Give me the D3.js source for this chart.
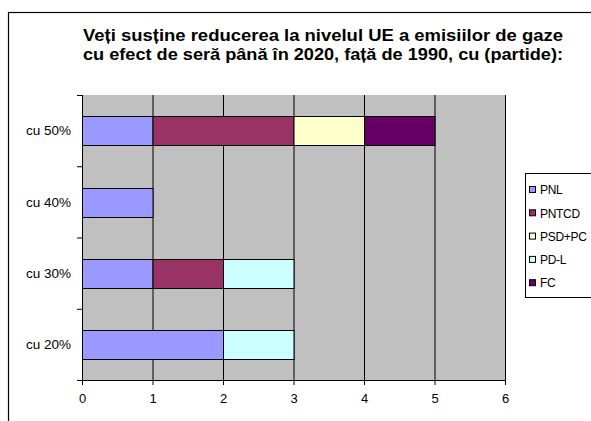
<!DOCTYPE html>
<html>
<head>
<meta charset="utf-8">
<script src="https://cdn.jsdelivr.net/npm/d3@7"></script>
<style>
  body { margin: 0; background: #fff; }
  svg { display: block; font-family: "Liberation Sans", Arial, sans-serif; }
</style>
</head>
<body>
<svg id="chart" width="591" height="421"></svg>
<script>
// data
var categories = ["cu 50%", "cu 40%", "cu 30%", "cu 20%"];
var parties = ["PNL", "PNTCD", "PSD+PC", "PD-L", "FC"];
var colors = ["#9999ff", "#993366", "#ffffcc", "#ccffff", "#660066"];
// one array per party, in category order
var pnl = [1, 1, 1, 2];
var pntcd = [2, 0, 1, 0];
var psdpc = [1, 0, 0, 0];
var pdl = [0, 0, 1, 1];
var fc = [1, 0, 0, 0];
var xTicks = [0, 1, 2, 3, 4, 5, 6];
var titleLines = [
  "Veți susține reducerea la nivelul UE a emisiilor de gaze",
  "cu efect de seră până în 2020, față de 1990, cu (partide):"
];

var svg = d3.select("#chart");

// outer chart border (runs off the right and bottom edge)
svg.append("rect")
  .attr("x", 8.5).attr("y", 12.5)
  .attr("width", 700).attr("height", 500)
  .attr("fill", "none").attr("stroke", "#000").attr("stroke-width", 1.2);

// careful: "top" is window.top, so use other names
var pLeft = 82, pRight = 505, pTop = 95, pBottom = 380;

var x = d3.scaleLinear().domain([0, 6]).range([pLeft, pRight]);
var y = d3.scaleBand().domain(categories).range([pTop, pBottom]).paddingInner(0.6).paddingOuter(0.3);

// build rows for the stack
var rows = categories.map(function(c, i) {
  return { cat: c, "PNL": pnl[i], "PNTCD": pntcd[i], "PSD+PC": psdpc[i], "PD-L": pdl[i], "FC": fc[i] };
});
var stacked = d3.stack().keys(parties)(rows);

// plot background
svg.append("rect")
  .attr("x", pLeft).attr("y", pTop)
  .attr("width", pRight - pLeft).attr("height", pBottom - pTop)
  .attr("fill", "#c0c0c0");

// vertical grid lines
svg.append("g").selectAll("line")
  .data(xTicks.slice(1))
  .join("line")
  .attr("x1", d => x(d) + 0.5).attr("x2", d => x(d) + 0.5)
  .attr("y1", pTop).attr("y2", pBottom)
  .attr("stroke", "#000").attr("stroke-width", 1);

// bars
svg.append("g").selectAll("g")
  .data(stacked)
  .join("g")
  .attr("fill", (d, i) => colors[i])
  .selectAll("rect")
  .data(d => d.filter(s => s[1] > s[0]))
  .join("rect")
  .attr("x", d => x(d[0]) + 0.5)
  .attr("y", d => Math.round(y(d.data.cat)) + 0.5)
  .attr("width", d => x(d[1]) - x(d[0]))
  .attr("height", Math.round(y.bandwidth()))
  .attr("stroke", "#000").attr("stroke-width", 1);

// x axis
var xAxis = svg.append("g")
  .attr("transform", "translate(0," + pBottom + ")")
  .call(d3.axisBottom(x).tickValues(xTicks).tickSize(5).tickPadding(9).tickFormat(d3.format("d")));
xAxis.select(".domain").attr("d", "M" + (pLeft - 5) + ",0.5H" + (pRight + 0.5));
xAxis.selectAll("text").attr("font-size", 13).attr("font-family", "Liberation Sans, Arial, sans-serif");

// y axis with ticks at band borders
var yAxis = svg.append("g").attr("transform", "translate(" + pLeft + ",0)");
yAxis.append("line")
  .attr("x1", 0.5).attr("x2", 0.5).attr("y1", pTop).attr("y2", pBottom + 5)
  .attr("stroke", "#000");
var step = (pBottom - pTop) / categories.length;
yAxis.selectAll("line.tick")
  .data(d3.range(categories.length + 1))
  .join("line")
  .attr("class", "tick")
  .attr("x1", -5).attr("x2", 0)
  .attr("y1", d => pTop + d * step + 0.5).attr("y2", d => pTop + d * step + 0.5)
  .attr("stroke", "#000");
yAxis.selectAll("text")
  .data(categories)
  .join("text")
  .attr("x", -11)
  .attr("y", d => y(d) + y.bandwidth() / 2)
  .attr("dy", "0.35em")
  .attr("text-anchor", "end")
  .attr("font-size", 13.5)
  .text(d => d);

// title
svg.append("g").selectAll("text")
  .data(titleLines)
  .join("text")
  .attr("x", 323)
  .attr("y", (d, i) => 41 + i * 19)
  .attr("text-anchor", "middle")
  .attr("font-size", 17)
  .attr("font-weight", "bold")
  .attr("textLength", 480)
  .attr("lengthAdjust", "spacingAndGlyphs")
  .text(d => d);

// legend
var legend = svg.append("g");
legend.append("rect")
  .attr("x", 525.5).attr("y", 173.5)
  .attr("width", 100).attr("height", 124)
  .attr("fill", "#fff").attr("stroke", "#000");
var items = legend.selectAll("g.item")
  .data(parties)
  .join("g")
  .attr("class", "item")
  .attr("transform", (d, i) => "translate(529," + (190 + i * 23.3) + ")");
items.append("rect")
  .attr("x", 0.5).attr("y", -3.5)
  .attr("width", 6).attr("height", 6)
  .attr("fill", (d, i) => colors[i])
  .attr("stroke", "#000");
items.append("text")
  .attr("x", 11).attr("y", 0)
  .attr("dy", "0.35em")
  .attr("font-size", 12)
  .attr("letter-spacing", -0.3)
  .text(d => d);
</script>
</body>
</html>
